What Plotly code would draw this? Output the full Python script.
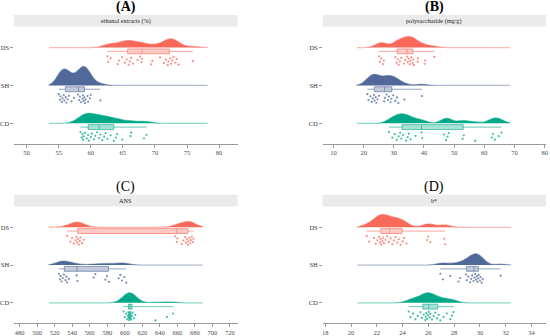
import numpy as np
import plotly.graph_objects as go

# ---------------- data ----------------
groups = ["DS", "SH", "CD"]
group_tick_vals = [1, 2, 3]
group_tick_text = ["CD", "SH", "DS"]

ethanol_DS = [62.6, 62.7, 63.1, 64.2, 64.4, 64.9, 65.3, 65.6, 65.9, 66.1, 66.3, 66.6, 67.3, 67.7, 67.9, 68.0,
              69.4, 69.6, 70.8, 71.4, 71.7, 72.0, 72.1, 72.4, 72.5, 72.7, 72.9, 73.2, 73.4, 73.7, 75.9]
ethanol_SH = [55.0, 55.2, 55.3, 55.5, 55.6, 55.8, 55.9, 56.1, 56.2, 56.4, 56.6, 57.0, 57.4, 58.0, 58.2, 58.3,
              58.5, 58.7, 58.8, 58.9, 59.0, 59.1, 59.2, 59.5, 59.6, 59.9, 60.0, 61.5]
ethanol_CD = [58.4, 58.6, 58.7, 58.8, 58.9, 59.1, 59.4, 59.6, 59.7, 60.0, 60.2, 60.5, 60.7, 61.0, 61.3, 61.5,
              61.8, 62.1, 62.3, 62.6, 63.1, 63.6, 63.9, 64.1, 64.9, 66.2, 66.3, 68.3, 68.7]

poly_DS = [25.1, 25.4, 25.8, 26.4, 26.7, 30.5, 30.9, 31.3, 31.6, 32.0, 32.5, 33.3, 33.8, 34.4, 34.6, 34.9,
           35.3, 35.5, 35.8, 36.2, 36.4, 36.6, 37.9, 38.0, 40.2, 40.4, 43.4]
poly_SH = [21.2, 21.6, 22.2, 22.7, 23.0, 23.4, 23.6, 24.0, 24.2, 24.6, 25.1, 26.8, 27.1, 27.6, 28.1, 28.4,
           28.9, 29.2, 29.8, 30.5, 31.0, 31.5, 33.5, 39.3]
poly_CD = [28.4, 29.5, 30.3, 31.0, 31.6, 32.1, 32.5, 33.0, 34.1, 34.6, 35.0, 35.6, 37.2, 39.2, 39.4, 46.6,
           47.3, 47.8, 48.2, 52.8, 53.2, 57.0, 62.5, 62.9, 63.5, 64.8, 65.7]

ans_DS = [534.2, 538.0, 539.9, 541.8, 543.7, 544.8, 545.6, 546.4, 547.5, 548.6, 549.4, 551.3, 553.2,
          657.4, 659.3, 660.0, 665.0, 666.9, 668.8, 670.0, 670.7, 671.9, 672.6, 673.7, 674.5, 675.3,
          676.5, 677.5, 678.3]
ans_SH = [524.7, 525.9, 526.6, 527.8, 529.2, 530.5, 532.3, 533.4, 534.2, 536.1, 545.0, 546.0, 564.5,
          566.4, 577.8, 579.7, 582.0, 593.0, 594.9, 596.8, 599.4, 601.7]
ans_CD = [598.5, 600.0, 601.5, 602.5, 603.5, 604.0, 604.3, 604.6, 605.0, 605.3, 605.5, 605.8, 606.0,
          606.3, 606.6, 607.0, 607.3, 608.0, 609.0, 610.5, 612.0, 635.0, 648.0, 655.0]

bstar_DS = [21.22, 21.4, 21.78, 21.91, 22.04, 22.17, 22.24, 22.3, 22.35, 22.42, 22.5, 22.55, 22.68, 22.81,
            22.94, 23.07, 23.2, 23.32, 23.45, 23.6, 23.71, 23.84, 24.0, 24.1, 24.3, 25.9, 25.97, 26.15,
            27.23, 27.31]
bstar_SH = [26.93, 27.13, 27.7, 28.34, 28.47, 28.93, 28.98, 29.1, 29.24, 29.32, 29.4, 29.5, 29.58, 29.63,
            29.7, 29.76, 29.81, 29.87, 29.9, 30.0, 30.05, 30.14, 30.22, 31.61]
bstar_CD = [24.48, 24.61, 24.82, 25.0, 25.18, 25.38, 25.51, 25.64, 25.77, 25.8, 25.85, 25.9, 25.97, 26.03,
            26.1, 26.15, 26.28, 26.41, 26.54, 26.67, 26.8, 26.93, 27.18, 27.44, 27.7, 27.83, 27.95]

panel_titles = ["(A)", "(B)", "(C)", "(D)"]
strip_labels = ["ethanol extracts (%)", "polysaccharide (mg/g)", "ANS", "b*"]
x_tick_vals = [
    [50, 55, 60, 65, 70, 75, 80],
    [10, 20, 30, 40, 50, 60, 70, 80],
    [480, 500, 520, 540, 560, 580, 600, 620, 640, 660, 680, 700, 720],
    [18, 20, 22, 24, 26, 28, 30, 32, 34],
]
panel_data = [
    {"DS": ethanol_DS, "SH": ethanol_SH, "CD": ethanol_CD},
    {"DS": poly_DS, "SH": poly_SH, "CD": poly_CD},
    {"DS": ans_DS, "SH": ans_SH, "CD": ans_CD},
    {"DS": bstar_DS, "SH": bstar_SH, "CD": bstar_CD},
]

# ---------------- styling / layout ----------------
colors = {"DS": (248, 105, 90), "SH": (80, 104, 154), "CD": (0, 168, 135)}
group_pos = {"DS": 3, "SH": 2, "CD": 1}
FONT = "Liberation Serif"
W, H = 550, 336

def rgba(c, a):
    return f"rgba({c[0]},{c[1]},{c[2]},{a})"

def px2fx(px):
    return px / W

def px2fy(py):
    return 1 - py / H

# violin peak heights (as trace width) and kernel bandwidths per panel / group
panels = [
    dict(xdom=(13, 238), ydom=(26.7, 144), xrange=[48.03, 82.9], span=[53.5, 78.2],
         bw={"DS": 0.95, "SH": 0.8, "CD": 1.05}, vw={"DS": 0.46, "SH": 1.0, "CD": 0.53}, bold=True),
    dict(xdom=(323.3, 548), ydom=(26.7, 144), xrange=[6.37, 80.45], span=[17.7, 68.5],
         bw={"DS": 1.8, "SH": 1.8, "CD": 1.8}, vw={"DS": 0.59, "SH": 0.59, "CD": 0.5}, bold=True),
    dict(xdom=(13, 238), ydom=(207, 324), xrange=[473.5, 728.8], span=[513.4, 688.9],
         bw={"DS": 7.0, "SH": 7.0, "CD": 7.0}, vw={"DS": 0.305, "SH": 0.21, "CD": 0.53}, bold=False),
    dict(xdom=(323.3, 548), ydom=(207, 324), xrange=[17.79, 35.13], span=[20.5, 32.4],
         bw={"DS": 0.45, "SH": 0.42, "CD": 0.45}, vw={"DS": 0.68, "SH": 0.59, "CD": 0.53}, bold=False),
]

fig = go.Figure()
shapes, annotations = [], []
golden = 0.6180339887

for k, (p, data) in enumerate(zip(panels, panel_data)):
    sfx = "" if k == 0 else str(k + 1)
    xa, ya = "x" + sfx, "y" + sfx
    for g in groups:
        vals = np.array(data[g], dtype=float)
        pos = group_pos[g]
        c = colors[g]
        fig.add_trace(go.Violin(
            x=vals, y0=pos, orientation="h", side="positive", width=p["vw"][g],
            scalemode="width", spanmode="manual", span=p["span"],
            bandwidth=p["bw"][g], points=False, fillcolor=rgba(c, 1.0),
            line=dict(color=rgba(c, 0.45), width=1.3),
            xaxis=xa, yaxis=ya, showlegend=False, hoverinfo="skip"))
        q1, med, q3 = np.percentile(vals, [25, 50, 75])
        fig.add_trace(go.Box(
            y=[pos - 0.1], q1=[q1], median=[med], q3=[q3],
            lowerfence=[vals.min()], upperfence=[vals.max()],
            orientation="h", width=0.13, whiskerwidth=0,
            fillcolor=rgba(c, 0.35), line=dict(color=rgba(c, 0.6), width=1),
            boxpoints=False, xaxis=xa, yaxis=ya, showlegend=False, hoverinfo="skip"))
        offs = np.array([0.23 + 0.24 * ((i * golden) % 1) for i in range(len(vals))])
        fig.add_trace(go.Scatter(
            x=vals, y=pos - offs, mode="markers",
            marker=dict(size=2.2, color=rgba(c, 0.75)),
            xaxis=xa, yaxis=ya, showlegend=False, hoverinfo="skip"))

    xdom = [px2fx(p["xdom"][0]), px2fx(p["xdom"][1])]
    ydom = [px2fy(p["ydom"][1]), px2fy(p["ydom"][0])]
    fig.update_layout(**{
        "xaxis" + sfx: dict(domain=xdom, range=p["xrange"], anchor=ya, showgrid=False, zeroline=False,
                            showline=True, linecolor="#9a9a9a", linewidth=1.2, ticks="outside", ticklen=3,
                            tickcolor="#9a9a9a", tickvals=x_tick_vals[k],
                            tickfont=dict(family=FONT, size=6.5, color="#4d4d4d")),
        "yaxis" + sfx: dict(domain=ydom, range=[0.466, 3.553], anchor=xa, showgrid=False, zeroline=False,
                            showline=False, ticks="outside", ticklen=2.5, tickcolor="#9a9a9a",
                            tickvals=group_tick_vals, ticktext=group_tick_text,
                            tickfont=dict(family=FONT, size=6.5, color="#333333")),
    })
    # facet strip
    strip_top = p["ydom"][0] - 11.7
    shapes.append(dict(type="rect", xref="paper", yref="paper", x0=xdom[0], x1=xdom[1],
                       y0=ydom[1], y1=px2fy(strip_top), fillcolor="#ebebeb", line=dict(width=0), layer="below"))
    annotations.append(dict(text=strip_labels[k], xref="paper", yref="paper",
                            x=(xdom[0] + xdom[1]) / 2, y=px2fy(strip_top + 5.85), showarrow=False,
                            xanchor="center", yanchor="middle",
                            font=dict(family=FONT, size=6.2, color="#1a1a1a")))
    title_text = f"<b>{panel_titles[k]}</b>" if p["bold"] else panel_titles[k]
    annotations.append(dict(text=title_text, xref="paper", yref="paper",
                            x=(xdom[0] + xdom[1]) / 2, y=px2fy(strip_top - 8.0), showarrow=False,
                            xanchor="center", yanchor="middle",
                            font=dict(family=FONT, size=14, color="#000000")))

fig.update_layout(width=W, height=H, margin=dict(l=0, r=0, t=0, b=0),
                  paper_bgcolor="white", plot_bgcolor="white",
                  shapes=shapes, annotations=annotations, violinmode="overlay", boxmode="overlay")

fig.write_html("out.html", config={"displayModeBar": False},
               post_script="document.body.style.margin='0px';")
